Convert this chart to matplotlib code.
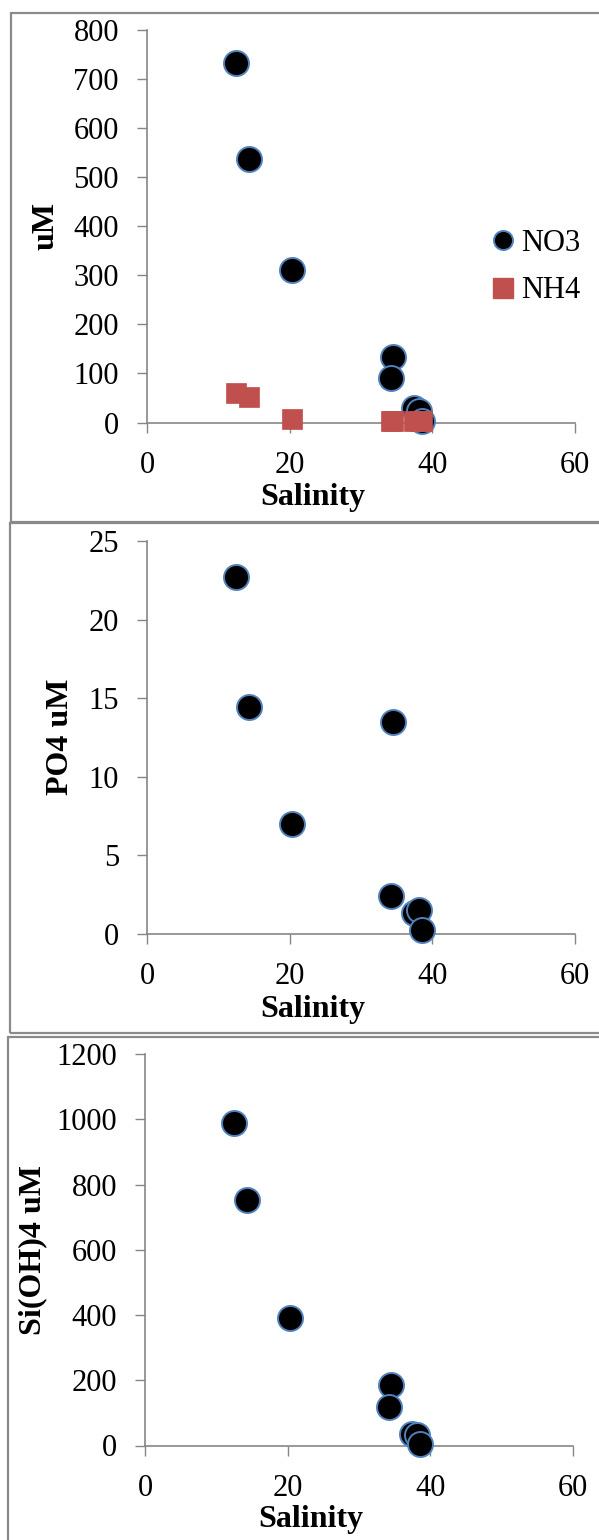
import matplotlib

matplotlib.use("Agg")
import matplotlib.pyplot as plt
from matplotlib.lines import Line2D
from matplotlib.patches import Rectangle

# data
salinity = [12.5, 14.3, 20.3, 34.45, 34.2, 37.4, 38.1, 38.6]
no3 = [732, 537, 310, 134, 91, 29, 24, 3]
nh4 = [60, 52, 8, 4, 4, 3, 4, 4]
po4 = [22.7, 14.4, 7.0, 13.5, 2.4, 1.3, 1.5, 0.2]
si = [988, 753, 392, 185, 118, 36, 33, 6]

x_ticks = [0, 20, 40, 60]
y_ticks_n = list(range(0, 801, 100))
y_ticks_p = list(range(0, 26, 5))
y_ticks_si = list(range(0, 1201, 200))

fs = 22
fs_lab = 23
W, H = 599, 1540
grey = "#868686"
dot_face = "black"
dot_edge = "#4F81BD"
sq_col = "#C0504D"

plt.rcParams["font.family"] = ["Liberation Serif", "DejaVu Serif"]

fig = plt.figure(figsize=(W / 100, H / 100), dpi=100)


def px_box(left, top, right, bottom):
    """pixel box -> figure fraction [l, b, w, h]"""
    return [left / W, 1 - bottom / H, (right - left) / W, (bottom - top) / H]


def px(x, y):
    return x / W, 1 - y / H


# chart borders
for l, t, r, b in [(10.7, 12.8, 640, 522), (10, 523, 640, 1033.4), (8.4, 1036.6, 640, 1600)]:
    fig.patches.append(
        Rectangle((l / W, 1 - b / H), (r - l) / W, (b - t) / H, transform=fig.transFigure,
                  fill=False, edgecolor="#8a8a8a", lw=1.6, clip_on=False)
    )

ax1 = fig.add_axes(px_box(147, 29.75, 575, 422.6))
ax2 = fig.add_axes(px_box(147, 541, 575, 933.6))
ax3 = fig.add_axes(px_box(145.2, 1054.2, 573, 1445.5))
axes = [ax1, ax2, ax3]

dot_kw = dict(ls="none", marker="o", ms=18, mfc=dot_face, mec=dot_edge, mew=1.4, clip_on=False, zorder=3)

ax1.plot(salinity, no3, **dot_kw)
ax1.plot(salinity, nh4, ls="none", marker="s", ms=13.7, mfc=sq_col, mec=sq_col, mew=0.5,
         clip_on=False, zorder=4)
ax2.plot(salinity, po4, **dot_kw)
ax3.plot(salinity, si, **dot_kw)

ax1.set_ylim(0, 800)
ax2.set_ylim(0, 25)
ax3.set_ylim(0, 1200)
ax1.set_yticks(y_ticks_n)
ax2.set_yticks(y_ticks_p)
ax3.set_yticks(y_ticks_si)

for a in axes:
    a.set_xlim(0, 60)
    a.set_xticks(x_ticks)
    a.patch.set_visible(False)
    for s in ["top", "right"]:
        a.spines[s].set_visible(False)
    for s in ["left", "bottom"]:
        a.spines[s].set_color(grey)
        a.spines[s].set_linewidth(1.2)
    a.tick_params(direction="out", length=7.2, width=1.0, color=grey, labelsize=fs, pad=13,
                  labelcolor="black")

# legend for the top chart
handles = [
    Line2D([], [], ls="none", marker="o", ms=13.7, mfc=dot_face, mec=dot_edge, mew=1.4),
    Line2D([], [], ls="none", marker="s", ms=14.3, mfc=sq_col, mec=sq_col),
]
ax1.legend(handles, ["NO3", "NH4"], loc="center left", bbox_to_anchor=(0.8, 0.396), frameon=False,
           fontsize=fs, handlelength=0.9, handletextpad=0.15, labelspacing=0.6, borderpad=0,
           borderaxespad=0)

# axis titles
for xy in [(313, 497), (313, 1009), (311, 1520)]:
    fig.text(*px(*xy), "Salinity", ha="center", va="center", fontsize=fs_lab, fontweight="bold")
for xy, lab in [((46, 226), "uM"), ((61, 737), "PO4 uM"), ((32.5, 1250), "Si(OH)4 uM")]:
    fig.text(*px(*xy), lab, ha="center", va="center", rotation=90, fontsize=fs_lab, fontweight="bold")

fig.savefig("out.png", dpi=100)
plt.close()
